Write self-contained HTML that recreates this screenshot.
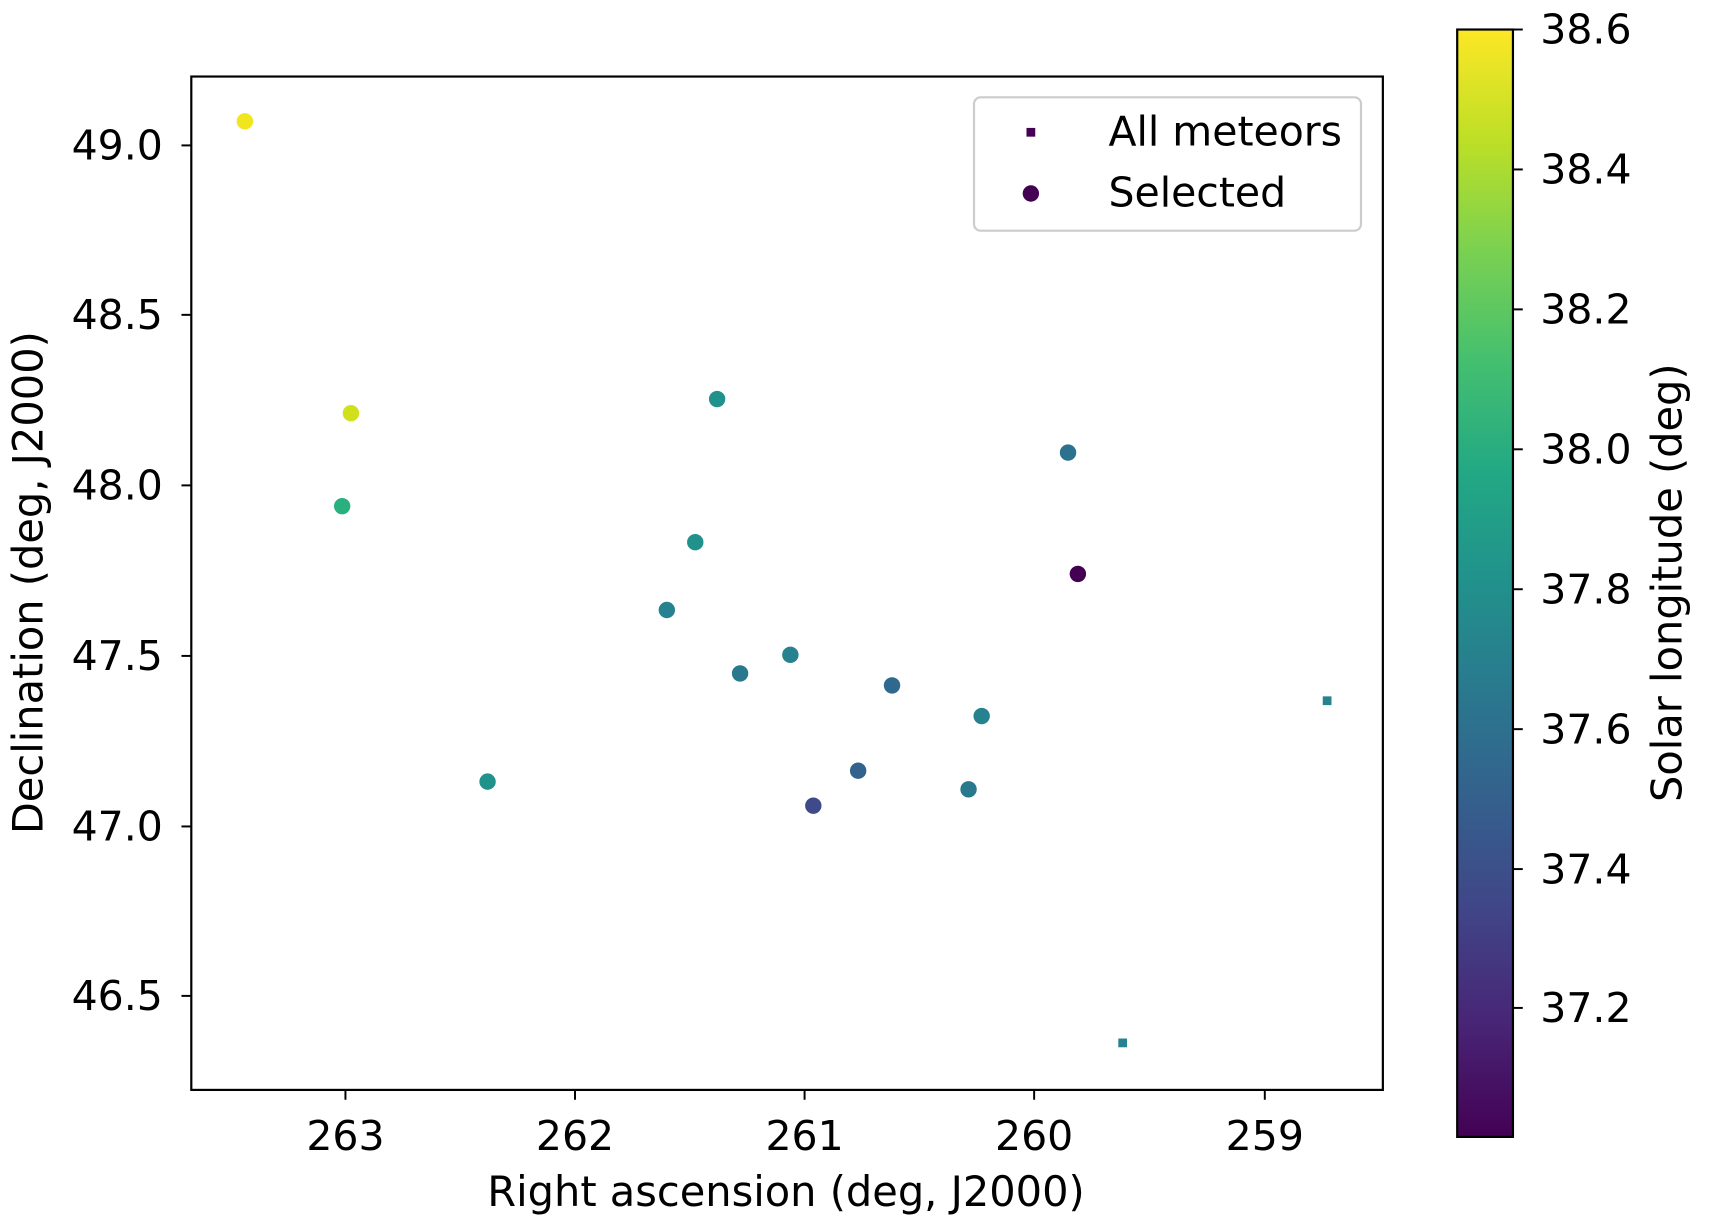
<!DOCTYPE html>
<html><head><style>body{margin:0;background:#fff}svg{display:block}</style></head><body>
<svg width="1713" height="1227" viewBox="0 0 1567 1122.4" xmlns="http://www.w3.org/2000/svg" font-family="'DejaVu Sans','Liberation Sans',sans-serif">
<defs><linearGradient id="v" x1="0" y1="1" x2="0" y2="0">
<stop offset="0" stop-color="#440154"/><stop offset="0.1" stop-color="#482475"/><stop offset="0.2" stop-color="#414487"/><stop offset="0.3" stop-color="#355f8d"/><stop offset="0.4" stop-color="#2a788e"/><stop offset="0.5" stop-color="#21918c"/><stop offset="0.6" stop-color="#22a884"/><stop offset="0.7" stop-color="#44bf70"/><stop offset="0.8" stop-color="#7ad151"/><stop offset="0.9" stop-color="#bddf26"/><stop offset="1" stop-color="#fde725"/></linearGradient></defs>
<rect width="1567" height="1123" fill="#fff"/>
<rect x="175" y="70" width="1090" height="927" fill="none" stroke="#000" stroke-width="2"/>
<g stroke="#000" stroke-width="1.8">
<line x1="316" y1="997" x2="316" y2="1006"/><line x1="526" y1="997" x2="526" y2="1006"/><line x1="736" y1="997" x2="736" y2="1006"/><line x1="946" y1="997" x2="946" y2="1006"/><line x1="1157" y1="997" x2="1157" y2="1006"/>
<line x1="166" y1="133" x2="175" y2="133"/><line x1="166" y1="288" x2="175" y2="288"/><line x1="166" y1="444" x2="175" y2="444"/><line x1="166" y1="600" x2="175" y2="600"/><line x1="166" y1="756" x2="175" y2="756"/><line x1="166" y1="911" x2="175" y2="911"/>
</g>
<g font-size="37.5" text-anchor="middle">
<text x="316" y="1052">263</text><text x="526" y="1052">262</text><text x="736" y="1052">261</text><text x="946" y="1052">260</text><text x="1157" y="1052">259</text>
</g>
<g font-size="37.5" text-anchor="end">
<text x="149" y="146">49.0</text><text x="149" y="301">48.5</text><text x="149" y="457">48.0</text><text x="149" y="613">47.5</text><text x="149" y="769">47.0</text><text x="149" y="924">46.5</text>
</g>
<text x="719" y="1103" font-size="38" text-anchor="middle">Right ascension (deg, J2000)</text>
<text transform="translate(39,533) rotate(-90)" font-size="38" text-anchor="middle">Declination (deg, J2000)</text>
<g>
<circle cx="224" cy="111" r="7.5" fill="#f1e51d"/>
<circle cx="321" cy="378" r="7.5" fill="#d0e11c"/>
<circle cx="313" cy="463" r="7.5" fill="#2ab07f"/>
<circle cx="656" cy="365" r="7.5" fill="#21918c"/>
<circle cx="636" cy="496" r="7.5" fill="#21918c"/>
<circle cx="610" cy="558" r="7.5" fill="#26828e"/>
<circle cx="723" cy="599" r="7.5" fill="#26828e"/>
<circle cx="677" cy="616" r="7.5" fill="#2a788e"/>
<circle cx="816" cy="627" r="7.5" fill="#30698e"/>
<circle cx="977" cy="414" r="7.5" fill="#2c728e"/>
<circle cx="986" cy="525" r="7.5" fill="#440154"/>
<circle cx="898" cy="655" r="7.5" fill="#26828e"/>
<circle cx="446" cy="715" r="7.5" fill="#21918c"/>
<circle cx="785" cy="705" r="7.5" fill="#33638d"/>
<circle cx="886" cy="722" r="7.5" fill="#2a788e"/>
<circle cx="744" cy="737" r="7.5" fill="#3e4a89"/>
<rect x="1210" y="637" width="8" height="8" fill="#26828e"/>
<rect x="1023" y="950" width="8" height="8" fill="#26828e"/>
</g>
<rect x="891" y="89" width="354" height="122" rx="6" fill="#fff" stroke="#ccc" stroke-width="2"/>
<rect x="939" y="117" width="8" height="8" fill="#440154"/>
<circle cx="943" cy="177" r="7.5" fill="#440154"/>
<text x="1014" y="133" font-size="37.5">All meteors</text>
<text x="1014" y="189" font-size="37.5">Selected</text>
<rect x="1333" y="27" width="51" height="1013" fill="url(#v)" stroke="#000" stroke-width="2"/>
<g stroke="#000" stroke-width="1.8">
<line x1="1384" y1="27" x2="1393" y2="27"/><line x1="1384" y1="155" x2="1393" y2="155"/><line x1="1384" y1="283" x2="1393" y2="283"/><line x1="1384" y1="411" x2="1393" y2="411"/><line x1="1384" y1="539" x2="1393" y2="539"/><line x1="1384" y1="667" x2="1393" y2="667"/><line x1="1384" y1="795" x2="1393" y2="795"/><line x1="1384" y1="922" x2="1393" y2="922"/>
</g>
<g font-size="37.5">
<text x="1409" y="40">38.6</text><text x="1409" y="168">38.4</text><text x="1409" y="296">38.2</text><text x="1409" y="424">38.0</text><text x="1409" y="552">37.8</text><text x="1409" y="680">37.6</text><text x="1409" y="808">37.4</text><text x="1409" y="935">37.2</text>
</g>
<text transform="translate(1538,533) rotate(-90)" font-size="38" text-anchor="middle">Solar longitude (deg)</text>
</svg>
</body></html>
